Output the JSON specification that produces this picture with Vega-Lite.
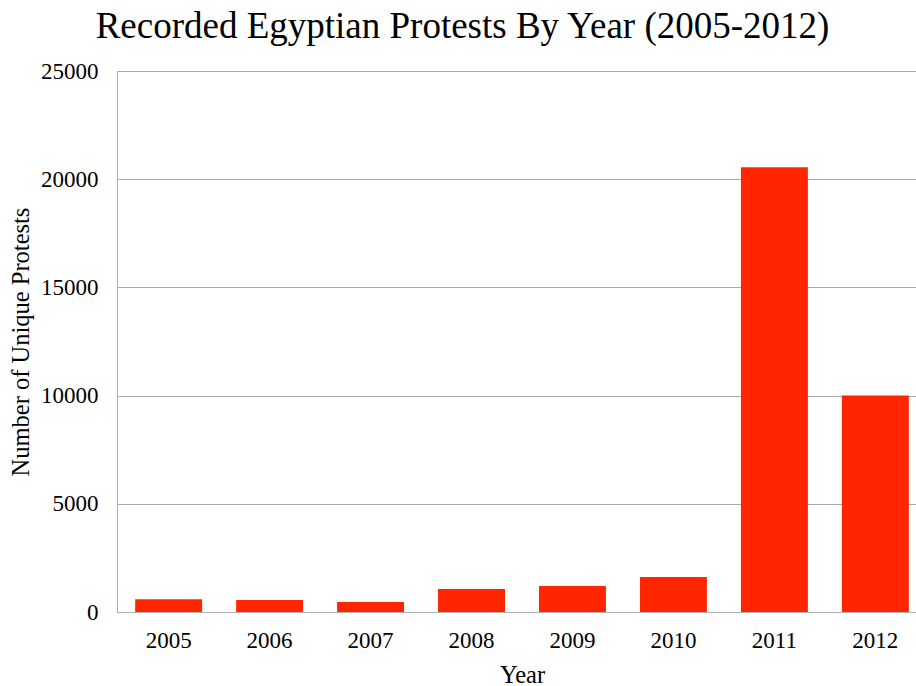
{
  "$schema": "https://vega.github.io/schema/vega-lite/v6.json",
  "width": 799,
  "height": 541,
  "autosize": {"type": "none"},
  "padding": {"left": 117, "top": 71, "right": 0, "bottom": 74},
  "background": "white",
  "title": {
    "text": "Recorded Egyptian Protests By Year (2005-2012)",
    "font": "Liberation Serif",
    "fontSize": 37,
    "fontWeight": "normal",
    "color": "black",
    "anchor": "middle",
    "dx": -54,
    "offset": 14
  },
  "data": {
    "values": [
      {"Year": "2005", "Protests": 590},
      {"Year": "2006", "Protests": 560},
      {"Year": "2007", "Protests": 465},
      {"Year": "2008", "Protests": 1065},
      {"Year": "2009", "Protests": 1200},
      {"Year": "2010", "Protests": 1615},
      {"Year": "2011", "Protests": 20550},
      {"Year": "2012", "Protests": 10000}
    ]
  },
  "config": {
    "view": {"stroke": null},
    "axis": {
      "labelFont": "Liberation Serif",
      "titleFont": "Liberation Serif",
      "labelFontSize": 23,
      "titleFontSize": 24.5,
      "titleFontWeight": "normal",
      "labelColor": "black",
      "titleColor": "black",
      "ticks": false,
      "domainColor": "#b0b0b0",
      "gridColor": "#a8a8a8"
    }
  },
  "mark": {"type": "bar", "color": "#FF2600"},
  "encoding": {
    "x": {
      "field": "Year",
      "type": "ordinal",
      "title": "Year",
      "scale": {"range": [0, 810], "paddingInner": 0.337, "paddingOuter": 0.18},
      "axis": {"labelAngle": 0, "labelPadding": 17, "titlePadding": 11, "grid": false}
    },
    "y": {
      "field": "Protests",
      "type": "quantitative",
      "title": "Number of Unique Protests",
      "scale": {"domain": [0, 25000]},
      "axis": {"values": [0, 5000, 10000, 15000, 20000, 25000], "format": "d", "labelPadding": 19, "titlePadding": 7, "grid": true}
    }
  }
}
